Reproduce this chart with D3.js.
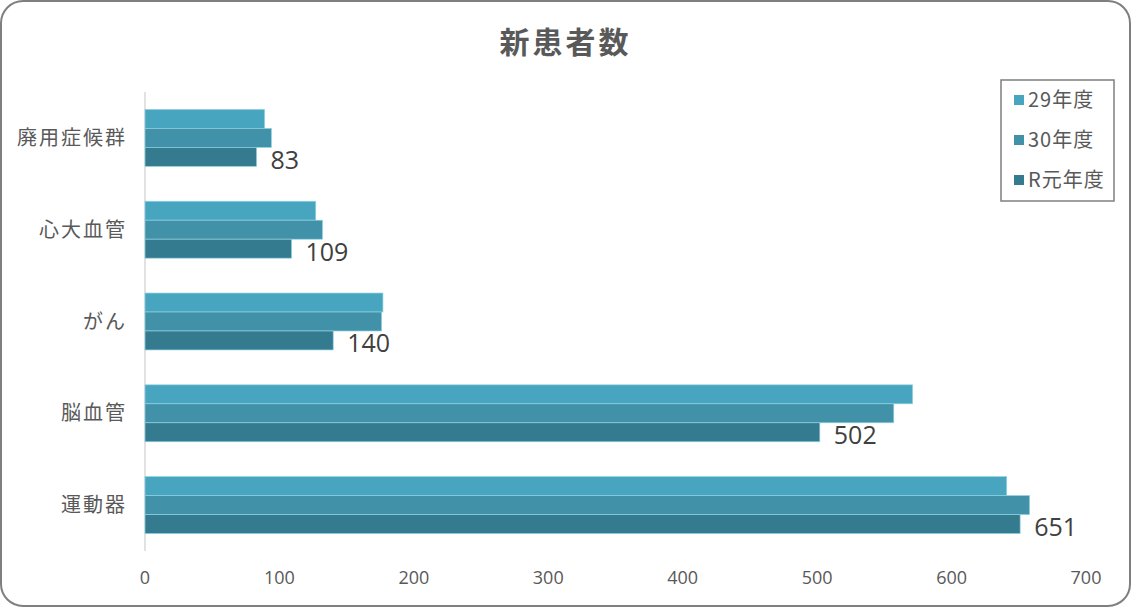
<!DOCTYPE html>
<html>
<head>
<meta charset="utf-8">
<script src="https://cdn.jsdelivr.net/npm/d3@7"></script>
<style>
  body { margin: 0; background: #fff; font-family: "Noto Sans CJK JP", "Noto Sans", sans-serif; }
  svg { display: block; }
</style>
</head>
<body>
<div id="container"><svg></svg></div>
<script>
let width = 1131;
let height = 607;

// データ
let categories = ['廃用症候群', '心大血管', 'がん', '脳血管', '運動器'];
let series_names = ['29年度', '30年度', 'R元年度'];
let values_29 = [89, 127, 177, 571, 641];
let values_30 = [94, 132, 176, 557, 658];
let values_r1 = [83, 109, 140, 502, 651];
let x_ticks = [0, 100, 200, 300, 400, 500, 600, 700];
let colors = ['#47a5bf', '#4191a9', '#357b90'];

function draw_chart() {
    let padding = {'left': 145, 'right': 45, 'top': 92, 'bottom': 56};
    let svg = d3.select('#container').select('svg')
        .attr('width', width)
        .attr('height', height);

    // 枠
    svg.append('rect')
        .attr('x', 1).attr('y', 1)
        .attr('width', width - 2).attr('height', height - 2)
        .attr('rx', 22).attr('ry', 22)
        .attr('fill', '#fff')
        .attr('stroke', '#7f7f7f')
        .attr('stroke-width', 2);

    // title
    svg.append('text')
        .attr('x', width / 2)
        .attr('y', 53)
        .attr('text-anchor', 'middle')
        .attr('font-size', 30)
        .attr('font-weight', 'bold')
        .attr('fill', '#595959')
        .attr('letter-spacing', 3)
        .text('新患者数');

    let x = d3.scaleLinear()
        .domain([0, 700])
        .range([padding.left, width - padding.right]);
    let y = d3.scaleBand()
        .domain(categories)
        .range([padding.top, height - padding.bottom])
        .paddingInner(0.38)
        .paddingOuter(0.19);
    let y_sub = d3.scaleBand()
        .domain(series_names)
        .range([0, y.bandwidth()]);

    // x axis labels
    svg.append('g').selectAll('text')
        .data(x_ticks)
        .enter()
        .append('text')
        .attr('x', d => x(d))
        .attr('y', 584)
        .attr('text-anchor', 'middle')
        .attr('font-size', 18)
        .attr('font-family', '"Open Sans", sans-serif')
        .attr('fill', '#595959')
        .text(d => d);

    // y axis
    svg.append('line')
        .attr('x1', x(0)).attr('x2', x(0))
        .attr('y1', padding.top).attr('y2', height - padding.bottom)
        .attr('stroke', '#d9d9d9')
        .attr('stroke-width', 1.5);

    svg.append('g').selectAll('text')
        .data(categories)
        .enter()
        .append('text')
        .attr('x', 127)
        .attr('y', d => y(d) + y.bandwidth() / 2 + 7)
        .attr('text-anchor', 'end')
        .attr('font-size', 20)
        .attr('letter-spacing', 2)
        .attr('fill', '#595959')
        .text(d => d);

    let all_values = [values_29, values_30, values_r1];
    for (let s = 0; s < 3; ++s) {
        let rows = categories.map((c, i) => ({'category': c, 'value': all_values[s][i]}));
        svg.append('g').selectAll('rect')
            .data(rows)
            .enter()
            .append('rect')
            .attr('x', x(0))
            .attr('y', d => y(d.category) + y_sub(series_names[s]))
            .attr('width', d => x(d.value) - x(0))
            .attr('height', y_sub.bandwidth())
            .attr('fill', colors[s])
            .attr('stroke', '#8fd0e2')
            .attr('stroke-width', 0.7);
    }

    // R元年度 のラベル
    svg.append('g').selectAll('text')
        .data(categories.map((c, i) => ({'category': c, 'value': values_r1[i]})))
        .enter()
        .append('text')
        .attr('x', d => x(d.value) + 14)
        .attr('y', d => y(d.category) + y_sub('R元年度') + y_sub.bandwidth() / 2 + 12)
        .attr('font-size', 25)
        .attr('font-family', '"Open Sans", sans-serif')
        .attr('fill', '#404040')
        .text(d => d.value);

    // legend
    let legend = svg.append('g');
    legend.append('rect')
        .attr('x', 1001).attr('y', 80)
        .attr('width', 113).attr('height', 121)
        .attr('fill', '#fff')
        .attr('stroke', '#7f7f7f')
        .attr('stroke-width', 1.5);
    let items = legend.selectAll('g.item')
        .data(series_names)
        .enter()
        .append('g')
        .attr('transform', (d, i) => 'translate(1014,' + (100 + i * 40) + ')');
    items.append('rect')
        .attr('x', 0).attr('y', -5)
        .attr('width', 10).attr('height', 10)
        .attr('fill', (d, i) => colors[i]);
    items.append('text')
        .attr('x', 14)
        .attr('y', 7)
        .attr('font-size', 20)
        .attr('letter-spacing', 1)
        .attr('fill', '#595959')
        .text(d => d);
}

draw_chart();
</script>
</body>
</html>
